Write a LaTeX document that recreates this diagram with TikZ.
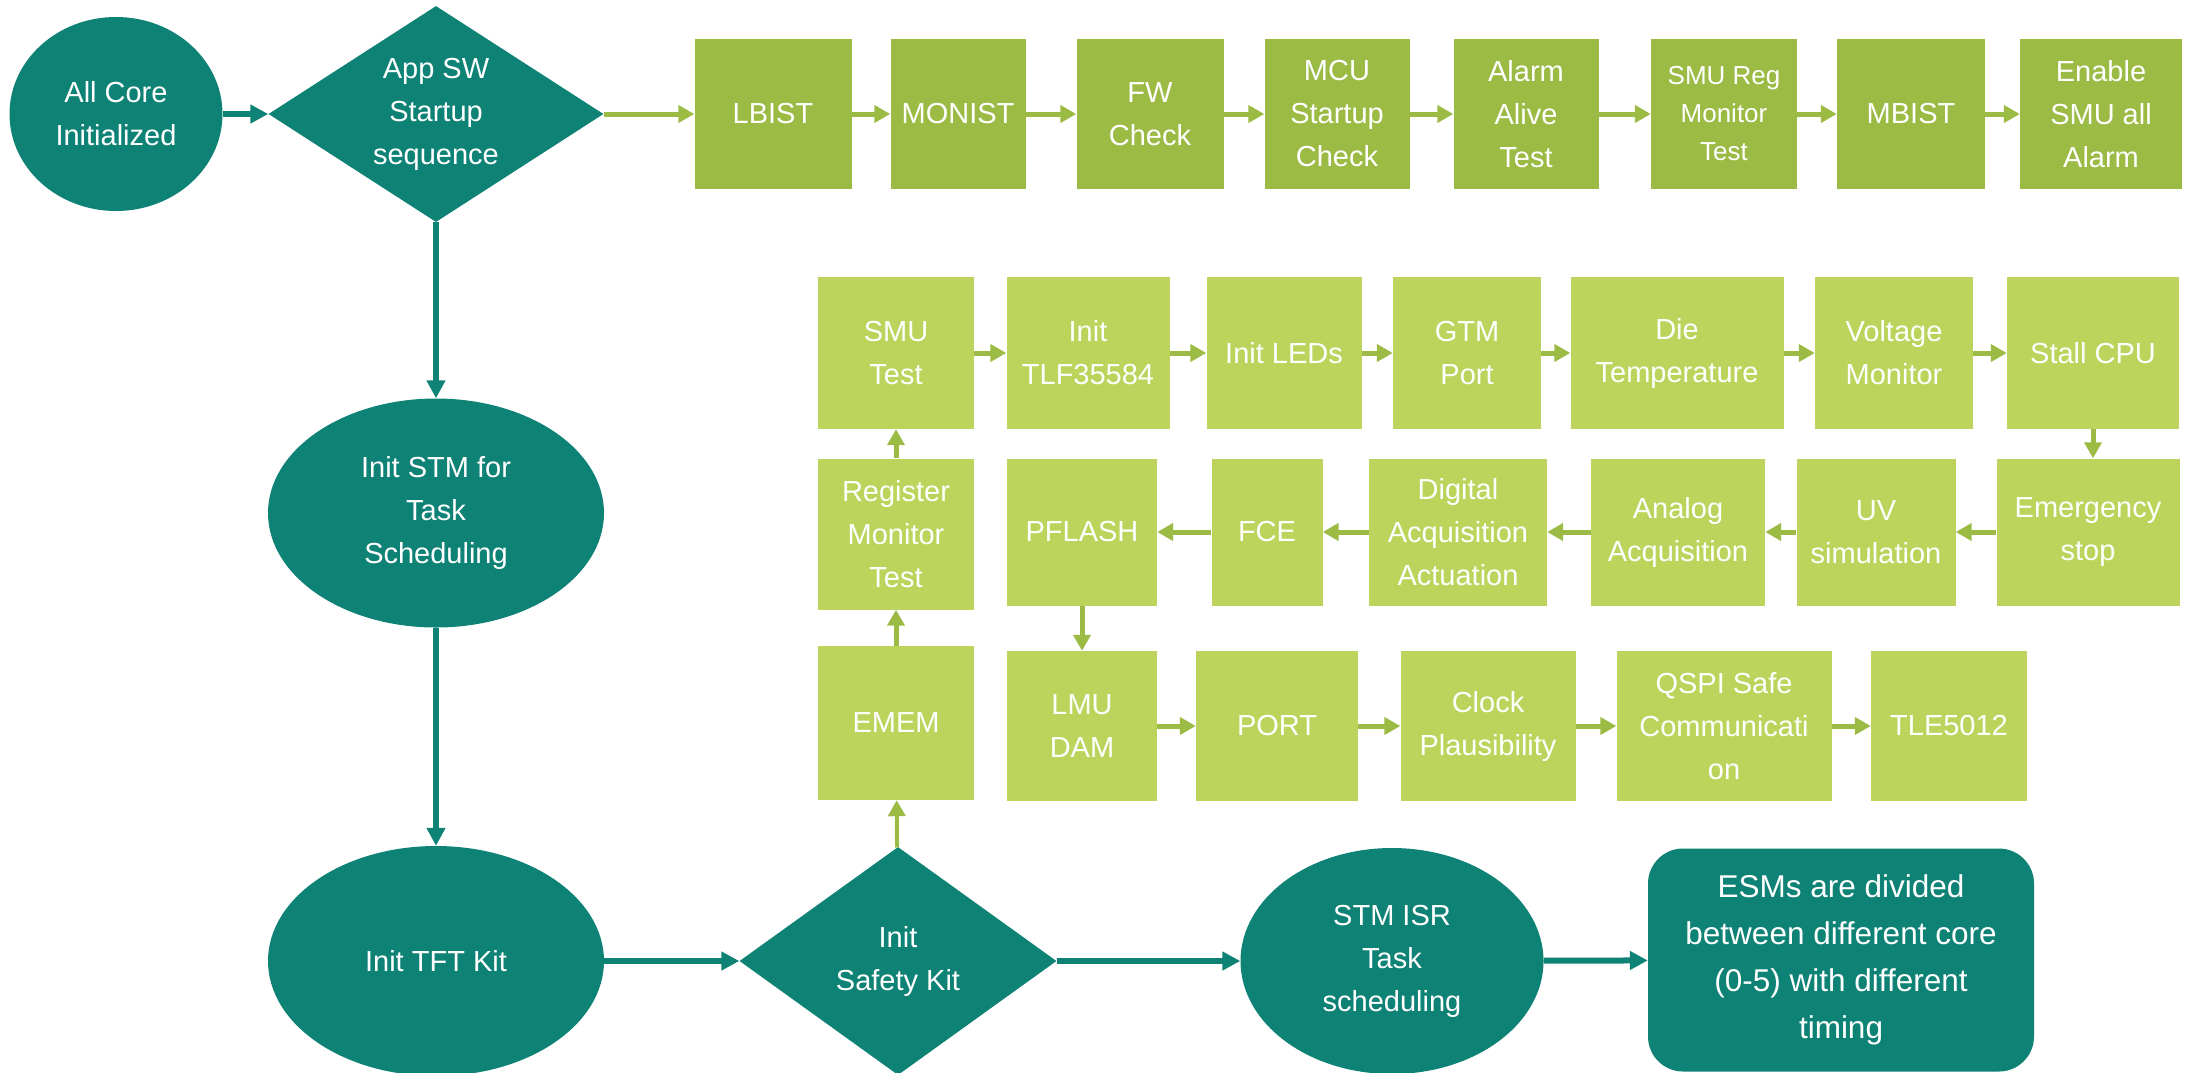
\documentclass[tikz,border=0pt]{standalone}
\usepackage{fontspec}
\setmainfont{Liberation Sans}
\usetikzlibrary{shapes.geometric,arrows.meta}
\definecolor{tealc}{RGB}{14,130,117}
\definecolor{topgreen}{RGB}{155,187,69}
\definecolor{midgreen}{RGB}{188,212,91}

\begin{document}
\begin{tikzpicture}[x=1pt,y=-1pt,
  every node/.style={text=white,align=center,inner sep=0pt,font=\fontsize{29}{43}\selectfont},
  oval/.style={ellipse,fill=tealc},
  decision/.style={diamond,fill=tealc},
  topbox/.style={rectangle,fill=topgreen,minimum height=150pt},
  midbox/.style={rectangle,fill=midgreen},
  flow/.style={draw=tealc,line width=6pt,-{Triangle[length=18pt,width=18pt]}},
  link/.style={draw=topgreen,line width=5pt,-{Triangle[length=16pt,width=17pt]}}]
\useasboundingbox (0,0) rectangle (2189,1072);

\node[oval,minimum width=213pt,minimum height=194pt] (allcore) at (116,114) {All Core\\Initialized};
\node[decision,aspect=1.55,minimum width=335pt,minimum height=216pt] (appsw) at (436,114) {App SW\\Startup\\sequence};
\node[oval,minimum width=336pt,minimum height=229pt] (initstm) at (436,513) {Init STM for\\Task\\Scheduling};
\node[oval,minimum width=336pt,minimum height=230pt] (tftkit) at (436,961) {Init TFT Kit};
\node[decision,aspect=1.39,minimum width=317pt,minimum height=228pt] (safety) at (898,961) {Init\\Safety Kit};
\node[oval,minimum width=303pt,minimum height=226pt] (stmisr) at (1392,961) {STM ISR\\Task\\scheduling};
\node[rectangle,rounded corners=35pt,fill=tealc,minimum width=386pt,minimum height=223pt,font=\fontsize{31.5}{47}\selectfont] (esm) at (1841,960) {ESMs are divided\\between different core\\(0-5) with different\\timing};

\node[topbox,minimum width=157pt] (lbist) at (773,114) {LBIST};
\node[topbox,minimum width=135pt] (monist) at (958,114) {MONIST};
\node[topbox,minimum width=147pt] (fwcheck) at (1150,114) {FW\\Check};
\node[topbox,minimum width=145pt] (mcucheck) at (1337,114) {MCU\\Startup\\Check};
\node[topbox,minimum width=145pt] (alarmalive) at (1526,114) {Alarm\\Alive\\Test};
\node[topbox,minimum width=146pt,font=\fontsize{26}{38}\selectfont] (smureg) at (1724,114) {SMU Reg\\Monitor\\Test};
\node[topbox,minimum width=148pt] (mbist) at (1911,114) {MBIST};
\node[topbox,minimum width=162pt] (enablesmu) at (2101,114) {Enable\\SMU all\\Alarm};

\node[midbox,minimum width=156pt,minimum height=152pt] (smutest) at (896,353) {SMU\\Test};
\node[midbox,minimum width=163pt,minimum height=152pt] (inittlf) at (1088,353) {Init\\TLF35584};
\node[midbox,minimum width=155pt,minimum height=152pt] (initleds) at (1284,353) {Init LEDs};
\node[midbox,minimum width=148pt,minimum height=152pt] (gtmport) at (1467,353) {GTM\\Port};
\node[midbox,minimum width=213pt,minimum height=152pt] (dietemp) at (1677,353) {Die\\Temperature};
\node[midbox,minimum width=158pt,minimum height=152pt] (voltmon) at (1894,353) {Voltage\\Monitor};
\node[midbox,minimum width=172pt,minimum height=152pt] (stall) at (2093,353) {Stall CPU};

\node[midbox,minimum width=156pt,minimum height=151pt] (regmon) at (896,534) {Register\\Monitor\\Test};
\node[midbox,minimum width=150pt,minimum height=147pt] (pflash) at (1082,532) {PFLASH};
\node[midbox,minimum width=111pt,minimum height=147pt] (fce) at (1267,532) {FCE};
\node[midbox,minimum width=178pt,minimum height=147pt] (digital) at (1458,532) {Digital\\Acquisition\\Actuation};
\node[midbox,minimum width=174pt,minimum height=147pt] (analog) at (1678,532) {Analog\\Acquisition};
\node[midbox,minimum width=159pt,minimum height=147pt] (uvsim) at (1876,532) {UV\\simulation};
\node[midbox,minimum width=183pt,minimum height=147pt] (emerg) at (2088,532) {Emergency\\stop};

\node[midbox,minimum width=156pt,minimum height=154pt] (emem) at (896,723) {EMEM};
\node[midbox,minimum width=150pt,minimum height=150pt] (lmudam) at (1082,726) {LMU\\DAM};
\node[midbox,minimum width=162pt,minimum height=150pt] (port) at (1277,726) {PORT};
\node[midbox,minimum width=175pt,minimum height=150pt] (clock) at (1488,726) {Clock\\Plausibility};
\node[midbox,minimum width=215pt,minimum height=150pt] (qspi) at (1724,726) {QSPI Safe\\Communicati\\on};
\node[midbox,minimum width=156pt,minimum height=150pt] (tle) at (1949,726) {TLE5012};

\draw[flow] (allcore) -- (appsw);
\draw[flow] (appsw) -- (initstm);
\draw[flow] (initstm) -- (tftkit);
\draw[flow] (tftkit) -- (safety);
\draw[flow] (safety) -- (stmisr);
\draw[flow] (stmisr) -- (esm);
\draw[link,line width=4pt] (safety) -- (emem);

\draw[link] (appsw) -- (lbist);
\draw[link] (lbist) -- (monist);
\draw[link] (monist) -- (fwcheck);
\draw[link] (fwcheck) -- (mcucheck);
\draw[link] (mcucheck) -- (alarmalive);
\draw[link] (alarmalive) -- (smureg);
\draw[link] (smureg) -- (mbist);
\draw[link] (mbist) -- (enablesmu);

\draw[link] (smutest) -- (inittlf);
\draw[link] (inittlf) -- (initleds);
\draw[link] (initleds) -- (gtmport);
\draw[link] (gtmport) -- (dietemp);
\draw[link] (dietemp) -- (voltmon);
\draw[link] (voltmon) -- (stall);
\draw[link] (stall.south) -- (stall.south |- emerg.north);
\draw[link] (emerg) -- (uvsim);
\draw[link] (uvsim) -- (analog);
\draw[link] (analog) -- (digital);
\draw[link] (digital) -- (fce);
\draw[link] (fce) -- (pflash);
\draw[link] (pflash) -- (lmudam);
\draw[link] (lmudam) -- (port);
\draw[link] (port) -- (clock);
\draw[link] (clock) -- (qspi);
\draw[link] (qspi) -- (tle);
\draw[link] (emem) -- (regmon);
\draw[link] (regmon) -- (smutest);
\end{tikzpicture}
\end{document}
